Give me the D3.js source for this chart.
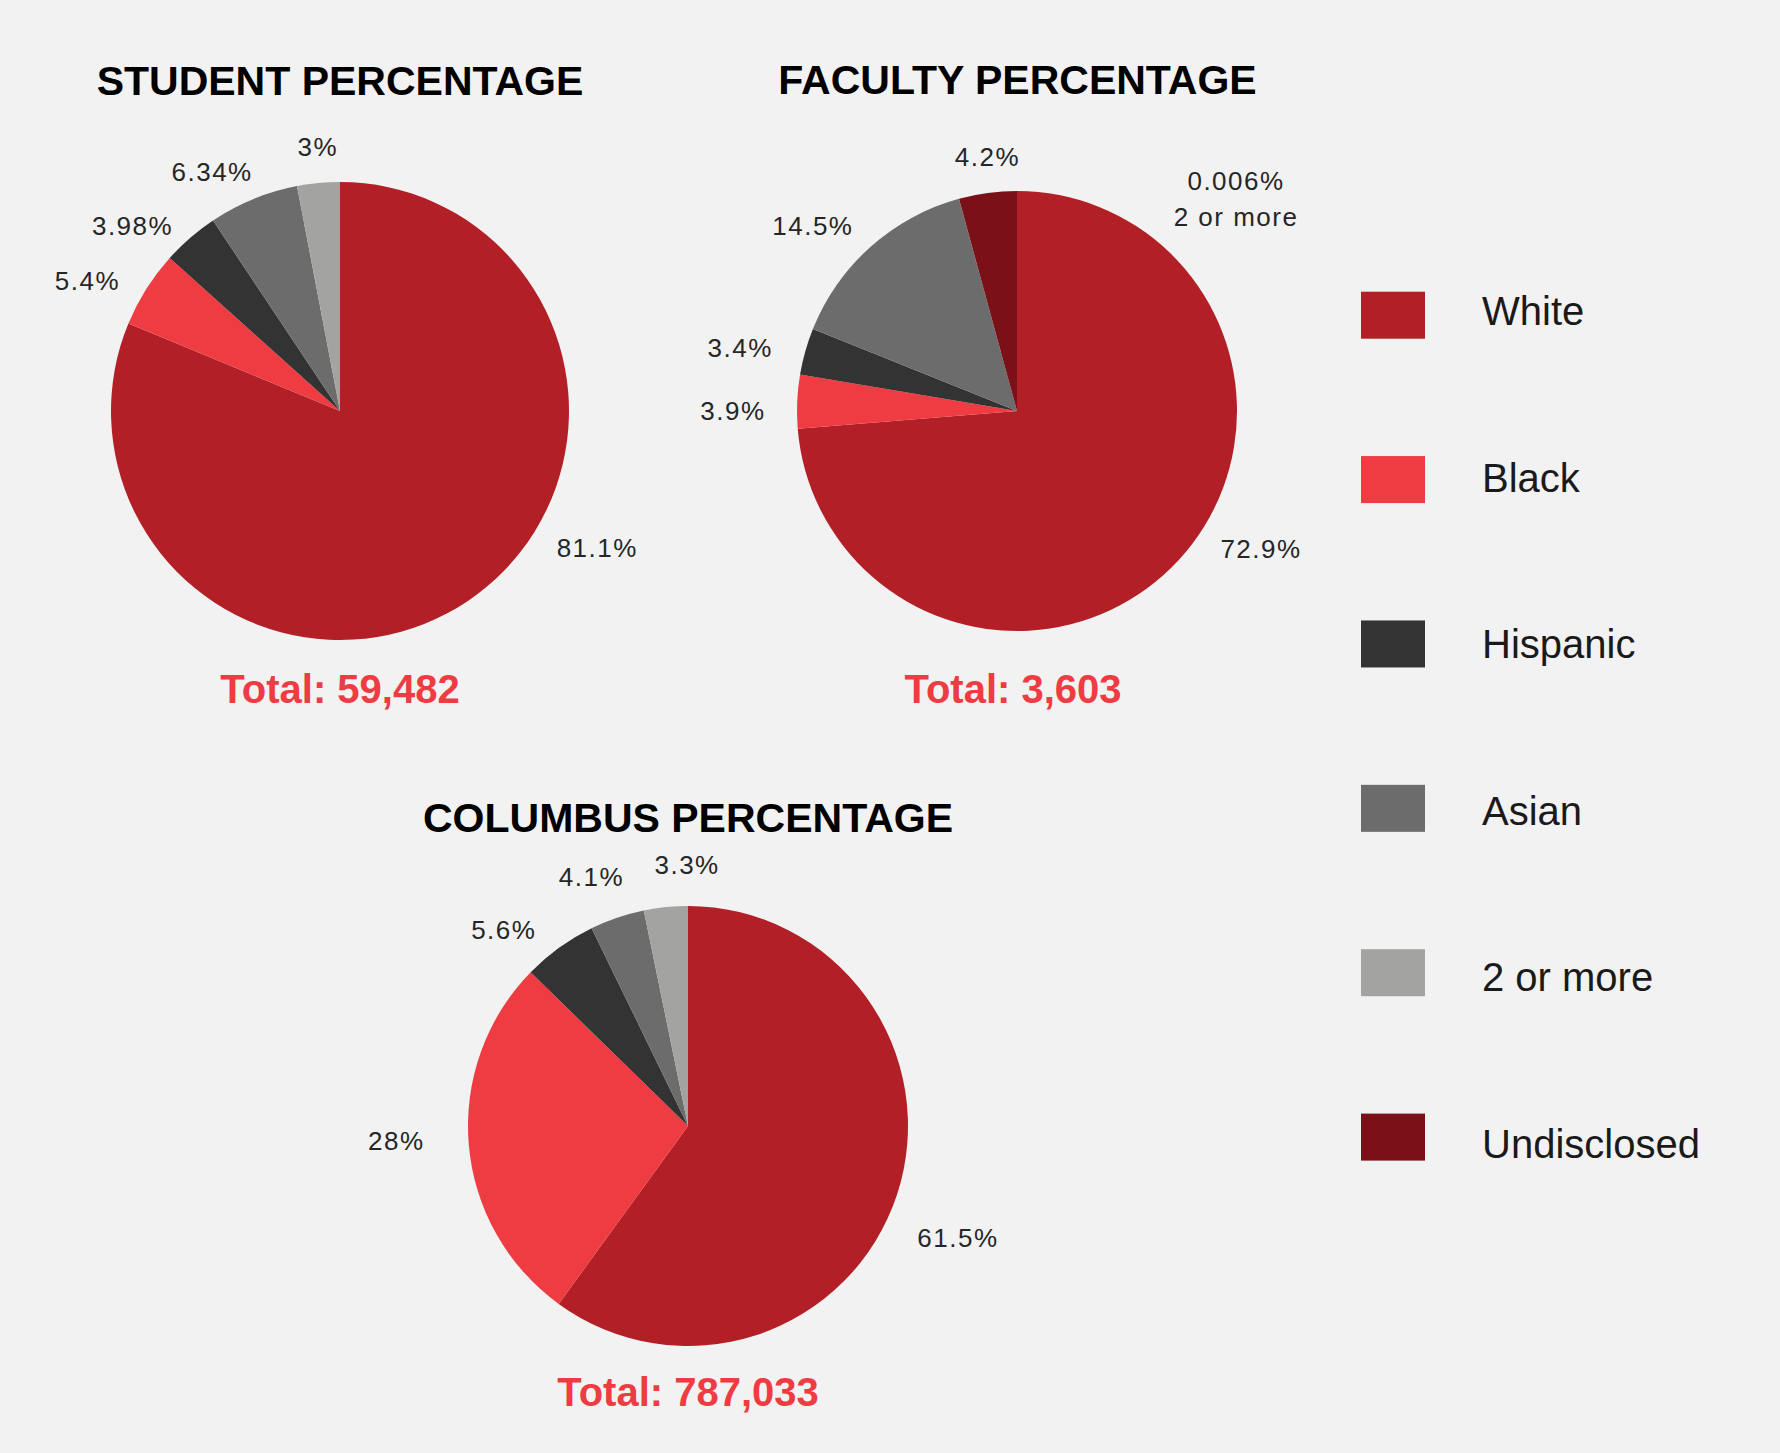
<!DOCTYPE html>
<html>
<head>
<meta charset="utf-8">
<script src="https://cdn.jsdelivr.net/npm/d3@7"></script>
<style>
  html, body { margin: 0; padding: 0; background: #f2f2f2; }
  svg { display: block; }
</style>
</head>
<body>
<svg id="chart" width="1780" height="1453"></svg>
<script>
// ---------- data ----------
const categories = ["White", "Black", "Hispanic", "Asian", "2 or more", "Undisclosed"];
const colors = ["#b31f27", "#ee3c42", "#333333", "#6b6c6b", "#a3a3a2", "#7a1119"];
const studentValues = [81.1, 5.4, 3.98, 6.34, 3, null];
const facultyValues = [72.9, 3.9, 3.4, 14.5, 0.006, 4.2];
const columbusValues = [61.5, 28, 5.6, 4.1, 3.3, null];
const titles = ["STUDENT PERCENTAGE", "FACULTY PERCENTAGE", "COLUMBUS PERCENTAGE"];
const totals = ["59,482", "3,603", "787,033"];
const facultyExtraNote = "2 or more"; // second line under the tiny faculty slice label

// ---------- layout ----------
const layout = [
  { cx: 340, cy: 411, r: 229, titleX: 340, titleY: 94.5, totalX: 340, totalY: 703,
    // [angle nudge in degrees, label radius] per category
    nudge: [[-28.2, 291.5], [-5.0, 284], [-7.4, 278], [-5.9, 271], [0.6, 265], [0, 0]] },
  { cx: 1017, cy: 411, r: 220, titleX: 1017.5, titleY: 93.6, totalX: 1013, totalY: 703,
    nudge: [[-13.3, 280], [-2.4, 284], [-2.8, 284], [-6.0, 276], [61.2, 305], [1.0, 256]] },
  { cx: 688, cy: 1126, r: 220, titleX: 688, titleY: 831.6, totalX: 688, totalY: 1406,
    nudge: [[4.4, 292], [2.05, 292], [-7.4, 269], [-2.4, 267], [5.6, 261], [0, 0]] }
];
const seriesList = [studentValues, facultyValues, columbusValues];

const svg = d3.select("#chart");
svg.append("rect").attr("width", 1780).attr("height", 1453).attr("fill", "#f2f2f2");

const color = d3.scaleOrdinal().domain(categories).range(colors);
const pie = d3.pie().sort(null).value(d => d.value);
const fmt = v => `${v}%`;

seriesList.forEach((vals, ci) => {
  const L = layout[ci];
  const entries = categories.map((c, i) => ({ cat: c, idx: i, value: vals[i] }))
    .filter(d => d.value != null);
  const arcs = pie(entries);
  const arc = d3.arc().innerRadius(0).outerRadius(L.r);

  const g = svg.append("g");

  g.append("text")
    .attr("x", L.titleX).attr("y", L.titleY)
    .attr("text-anchor", "middle")
    .attr("font-family", "'Liberation Sans', Arial, sans-serif")
    .attr("font-weight", "bold")
    .attr("font-size", 41)
    .attr("fill", "#000")
    .text(titles[ci]);

  const pg = g.append("g").attr("transform", `translate(${L.cx},${L.cy})`);
  pg.selectAll("path").data(arcs).join("path")
    .attr("d", arc)
    .attr("fill", d => color(d.data.cat));

  arcs.forEach(d => {
    const nd = L.nudge[d.data.idx];
    const a = (d.startAngle + d.endAngle) / 2 + nd[0] * Math.PI / 180;
    const x = L.cx + nd[1] * Math.sin(a);
    const y = L.cy - nd[1] * Math.cos(a);
    const isTiny = ci === 1 && d.data.cat === "2 or more";
    const t = svg.append("text")
      .attr("text-anchor", "middle")
      .attr("font-family", "'Liberation Sans', Arial, sans-serif")
      .attr("font-size", 26)
      .attr("letter-spacing", "1.5px")
      .attr("fill", "#262626");
    if (isTiny) {
      t.append("tspan").attr("x", x).attr("y", y - 17.8).attr("dy", "0.36em").text(fmt(d.data.value));
      t.append("tspan").attr("x", x).attr("y", y + 17.8).attr("dy", "0.36em").text(facultyExtraNote);
    } else {
      t.attr("x", x).attr("y", y).attr("dy", "0.36em").text(fmt(d.data.value));
    }
  });

  g.append("text")
    .attr("x", L.totalX).attr("y", L.totalY)
    .attr("text-anchor", "middle")
    .attr("font-family", "'Liberation Sans', Arial, sans-serif")
    .attr("font-weight", "bold")
    .attr("font-size", 40)
    .attr("fill", "#ee3c42")
    .text(`Total: ${totals[ci]}`);
});

// ---------- legend ----------
const swatchY = d3.scalePoint().domain(categories).range([315.2, 1137.1]);
const textY = d3.scalePoint().domain(categories).range([325, 1157.5]);
const lg = svg.append("g");
lg.selectAll("rect").data(categories).join("rect")
  .attr("x", 1361).attr("width", 64)
  .attr("y", d => swatchY(d) - 23.5).attr("height", 47)
  .attr("fill", d => color(d));
lg.selectAll("text").data(categories).join("text")
  .attr("x", 1482).attr("y", d => textY(d))
  .attr("font-family", "'Liberation Sans', Arial, sans-serif")
  .attr("font-size", 40)
  .attr("fill", "#1a1a1a")
  .text(d => d);
</script>
</body>
</html>
